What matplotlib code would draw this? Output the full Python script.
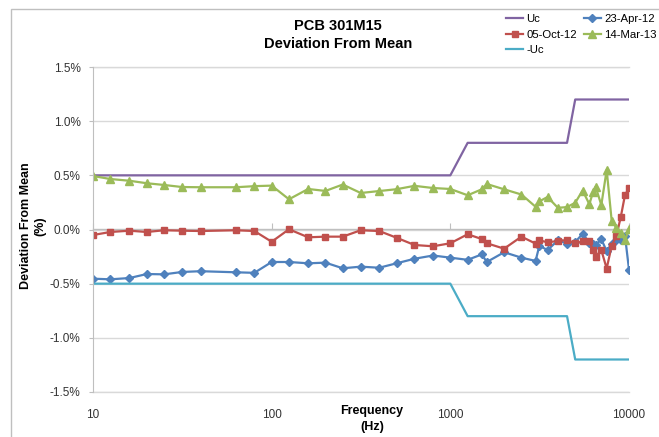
import matplotlib
matplotlib.use("Agg")
import matplotlib.pyplot as plt
from matplotlib.patches import Rectangle
from matplotlib.ticker import FixedLocator, FuncFormatter

plt.rcParams["font.family"] = ["Liberation Sans", "DejaVu Sans"]

# ---------------------------------------------------------------------------
# Données (écart en %)
# ---------------------------------------------------------------------------
FREQ_HZ = [10, 12.5, 16, 20, 25, 31.5, 40, 63, 80, 100, 125, 160, 200, 250,
           315, 400, 500, 630, 800, 1000, 1250, 1500, 1600, 2000, 2500, 3000,
           3150, 3500, 4000, 4500, 5000, 5500, 6000, 6300, 6500, 7000, 7500,
           8000, 8500, 9000, 9500, 10000]

AVR_12 = [-0.454, -0.46, -0.448, -0.411, -0.414, -0.392, -0.385, -0.395, -0.40,
          -0.30, -0.30, -0.312, -0.306, -0.358, -0.343, -0.353, -0.312, -0.27,
          -0.24, -0.26, -0.28, -0.23, -0.30, -0.21, -0.26, -0.29, -0.15, -0.19,
          -0.10, -0.13, -0.115, -0.04, -0.12, -0.13, -0.145, -0.09, -0.20,
          -0.13, -0.10, -0.10, -0.06, -0.37]

OCT_12 = [-0.051, -0.023, -0.011, -0.023, -0.007, -0.011, -0.014, -0.007,
          -0.014, -0.113, 0.002, -0.072, -0.066, -0.066, -0.007, -0.014, -0.076,
          -0.143, -0.155, -0.127, -0.044, -0.088, -0.127, -0.177, -0.066, -0.13,
          -0.10, -0.118, -0.106, -0.097, -0.127, -0.11, -0.11, -0.19, -0.25,
          -0.19, -0.36, -0.15, -0.06, 0.118, 0.32, 0.38]

MAR_13 = [0.494, 0.466, 0.45, 0.427, 0.411, 0.392, 0.39, 0.39, 0.40, 0.405,
          0.279, 0.374, 0.356, 0.415, 0.337, 0.355, 0.372, 0.403, 0.383, 0.374,
          0.316, 0.371, 0.42, 0.371, 0.323, 0.21, 0.26, 0.30, 0.20, 0.207,
          0.247, 0.36, 0.233, 0.35, 0.395, 0.226, 0.55, 0.08, 0.015, -0.03,
          -0.10, 0.005]

UC_FREQ = [10, 1000, 1250, 4500, 5000, 10000]
UC_VAL = [0.5, 0.5, 0.8, 0.8, 1.2, 1.2]

Y_TICKS = [-1.5, -1.0, -0.5, 0.0, 0.5, 1.0, 1.5]
X_TICKS = [10, 100, 1000, 10000]

W, H = 659, 437
GRIS_AXE = "#BFBFBF"
GRIS_GRILLE = "#D9D9D9"


def main() -> None:
    fig = plt.figure(figsize=(W / 100, H / 100), dpi=100)
    ax = fig.add_axes([93 / W, 1 - 392 / H, (629 - 93) / W, (392 - 67) / H])

    # Bordure de la zone graphique (style Excel), coupée à droite et en bas
    fig.add_artist(Rectangle((11 / W, -0.2), 1.2, 1.2 - 9 / H,
                             transform=fig.transFigure, fill=False,
                             edgecolor=GRIS_AXE, linewidth=1.0))

    lw = 1.6
    h_uc, = ax.plot(UC_FREQ, UC_VAL, color="#8064A2", lw=lw, label="Uc")
    h_apr, = ax.plot(FREQ_HZ, AVR_12, color="#4F81BD", lw=lw, marker="D",
                     ms=4, label="23-Apr-12")
    h_oct, = ax.plot(FREQ_HZ, OCT_12, color="#C0504D", lw=lw, marker="s",
                     ms=5, label="05-Oct-12")
    h_mar, = ax.plot(FREQ_HZ, MAR_13, color="#9BBB59", lw=lw, marker="^",
                     ms=5.5, label="14-Mar-13")
    h_muc, = ax.plot(UC_FREQ, [-v for v in UC_VAL], color="#4BACC6", lw=lw,
                     label="-Uc")

    ax.set_xscale("log")
    ax.set_xlim(10, 10000)
    ax.set_ylim(-1.5, 1.5)
    ax.xaxis.set_major_locator(FixedLocator(X_TICKS))
    ax.xaxis.set_minor_locator(FixedLocator([]))
    ax.xaxis.set_major_formatter(FuncFormatter(lambda v, _: f"{v:g}"))
    ax.yaxis.set_major_locator(FixedLocator(Y_TICKS))
    ax.yaxis.set_major_formatter(FuncFormatter(lambda v, _: f"{v:.1f}%"))

    ax.grid(axis="y", color=GRIS_GRILLE, lw=1.0)
    ax.set_axisbelow(True)
    for side in ("top", "right", "bottom"):
        ax.spines[side].set_visible(False)
    ax.spines["left"].set_color(GRIS_AXE)
    ax.axhline(-1.5, color=GRIS_GRILLE, lw=1.0, zorder=0, clip_on=False)
    ax.axhline(1.5, color=GRIS_GRILLE, lw=1.0, zorder=0, clip_on=False)

    ax.tick_params(axis="y", length=3, width=0.8, color=GRIS_AXE,
                   labelsize=8.5, labelcolor="#333333", pad=6)
    ax.tick_params(axis="x", length=0, labelsize=8.5, labelcolor="#333333",
                   pad=12)

    # Axe horizontal croisant à 0 %, avec ses graduations
    sec = ax.secondary_xaxis(0.5)
    sec.set_xticks(X_TICKS)
    sec.xaxis.set_minor_locator(FixedLocator([]))
    sec.set_xticklabels([])
    sec.tick_params(length=4, width=0.8, color=GRIS_AXE, direction="out")
    for sp in sec.spines.values():
        sp.set_color(GRIS_AXE)
        sp.set_linewidth(1.0)
    sec.set_zorder(0.5)

    fig.text(338 / W, 1 - 35 / H, "PCB 301M15\nDeviation From Mean",
             ha="center", va="center", fontsize=10.5, fontweight="bold",
             linespacing=1.4)
    fig.text(33 / W, 1 - 226 / H, "Deviation From Mean\n(%)", rotation=90,
             ha="center", va="center", fontsize=9, fontweight="bold",
             linespacing=1.2)
    fig.text(372 / W, 1 - 419 / H, "Frequency\n(Hz)", ha="center",
             va="center", fontsize=9, fontweight="bold", linespacing=1.35)

    fig.legend(handles=[h_uc, h_oct, h_muc, h_apr, h_mar], ncol=2,
               loc="upper left", bbox_to_anchor=(506 / W, 1 - 14 / H),
               frameon=False, fontsize=8.2, handlelength=1.5,
               handletextpad=0.3, columnspacing=0.6, labelspacing=0.5,
               borderaxespad=0, borderpad=0)

    fig.savefig("out.png", dpi=100)
    plt.close(fig)


if __name__ == "__main__":
    main()
